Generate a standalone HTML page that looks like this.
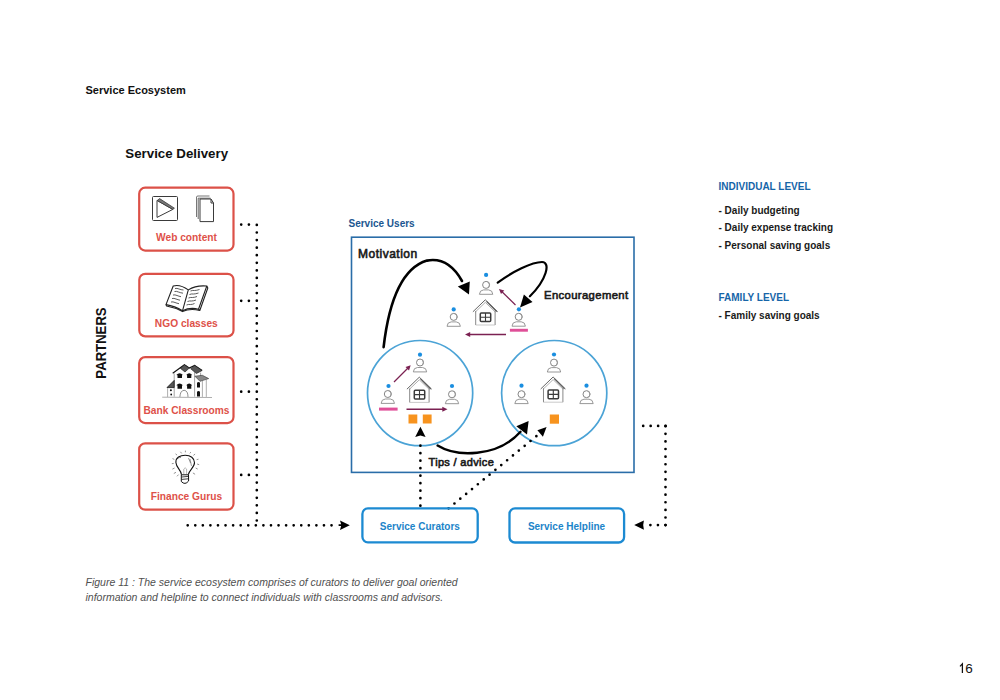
<!DOCTYPE html>
<html><head><meta charset="utf-8">
<style>
html,body{margin:0;padding:0;background:#fff;}
body{width:1000px;height:700px;position:relative;overflow:hidden;font-family:"Liberation Sans",sans-serif;}
.t{position:absolute;white-space:nowrap;line-height:1;}
.b{font-weight:bold;}
.red{color:#de5149;font-size:10.2px;font-weight:bold;}
.blk{color:#1a1a1a;font-size:10px;font-weight:bold;}
.lvl{color:#1665a8;font-size:10px;font-weight:bold;}
.hand{color:#1a1a1a;font-size:11px;font-weight:normal;-webkit-text-stroke:0.6px #1a1a1a;}
svg{position:absolute;left:0;top:0;}
</style></head><body>
<svg width="1000" height="700" viewBox="0 0 1000 700">
<defs>
 <g id="person">
  <circle cx="0" cy="0" r="3.5" fill="none" stroke="#777" stroke-width="0.9"/>
  <path d="M1.2 -3.2 A3.4 3.4 0 0 1 2.2 2.5" fill="none" stroke="#999" stroke-width="1"/>
  <path d="M-6.7 9.4 Q-6.4 5.2 -2.5 5 H2.5 Q6.4 5.2 6.7 9.4 Z" fill="none" stroke="#8c8c8c" stroke-width="0.9"/>
 </g>
 <g id="house">
  <path d="M-12.4 12.2 L0 0.2 L12.4 12.2" fill="none" stroke="#666" stroke-width="1"/>
  <path d="M-10.2 12.6 L0 2.8 L10.2 12.6" fill="none" stroke="#999" stroke-width="0.8"/>
  <path d="M1.2 1.8 L11.4 12" fill="none" stroke="#555" stroke-width="1.1"/>
  <path d="M-9.6 11.5 V25.4 M9.8 11.5 V25.4" fill="none" stroke="#7a7a7a" stroke-width="0.9"/>
  <path d="M-9.6 25.4 H9.8" fill="none" stroke="#bbb" stroke-width="0.8"/>
  <rect x="-5" y="13.3" width="10.4" height="8.6" rx="1" fill="none" stroke="#3a3a3a" stroke-width="1.5"/>
  <path d="M0.2 13.3 V21.9 M-5 17.6 H5.4" stroke="#3a3a3a" stroke-width="1.1"/>
 </g>
</defs>

<!-- red partner boxes -->
<g fill="none" stroke="#dc5148" stroke-width="2.2">
 <rect x="139.2" y="187.7" width="94.3" height="62.9" rx="6"/>
 <rect x="139.3" y="273.8" width="94.2" height="62.6" rx="6"/>
 <rect x="139.2" y="357.1" width="94.3" height="66" rx="6"/>
 <rect x="139.2" y="443.3" width="94.3" height="66.4" rx="6"/>
</g>

<!-- dotted lines left -->
<g stroke="#000" stroke-width="2.7" stroke-linecap="round" fill="none">
 <path d="M256.8 224.9 V521" stroke-dasharray="0 7.58"/>
 <path d="M241.2 224.6 H249 M241.2 300.8 H249 M241.2 391.7 H249 M241.2 474.9 H249" stroke-dasharray="0 7.7"/>
 <path d="M187.7 525.3 H332" stroke-dasharray="0 7.57"/>
</g>
<path d="M349.8 525.2 L340 520.5 L341.1 524.3 L338.6 524.3 L338.6 526.1 L341.1 526.1 L340 529.9 Z" fill="#000"/>

<!-- Service users rect -->
<rect x="351.5" y="237.2" width="282.5" height="235.2" fill="none" stroke="#2a6da8" stroke-width="1.6"/>
<g fill="none" stroke="#4ba3d6" stroke-width="1.7">
 <circle cx="420.1" cy="393.1" r="52.6"/>
 <circle cx="554.2" cy="393.1" r="52.6"/>
</g>

<!-- group 1 -->
<use href="#person" x="486.1" y="284.9"/><circle cx="486.1" cy="274.9" r="2.1" fill="#1a8ee0"/>
<use href="#person" x="453.7" y="316.9"/><circle cx="453.7" cy="309.4" r="2.1" fill="#1a8ee0"/>
<use href="#person" x="518.7" y="316.8"/><circle cx="518.9" cy="309.3" r="2.1" fill="#1a8ee0"/>
<use href="#house" x="485.3" y="299.6"/>
<rect x="509.9" y="328.8" width="18" height="2.9" fill="#df4f98"/>
<g stroke="#7b2152" stroke-width="1.2" fill="#7b2152">
 <path d="M506 334.5 H468" fill="none" stroke-width="1.4"/>
 <path d="M465 334.5 L470.2 332 L470.2 337 Z" stroke="none"/>
 <path d="M515.5 305 L501 290.8" fill="none"/>
 <path d="M499 289 L504.3 290.6 L501 294 Z" stroke="none"/>
</g>

<!-- group 2 -->
<use href="#person" x="420" y="362.5"/><circle cx="420" cy="354.7" r="2.1" fill="#1a8ee0"/>
<use href="#person" x="387.8" y="394"/><circle cx="388.5" cy="386" r="2.1" fill="#1a8ee0"/>
<use href="#person" x="452" y="394.3"/><circle cx="452" cy="386" r="2.1" fill="#1a8ee0"/>
<use href="#house" x="419.3" y="377"/>
<rect x="379" y="407.6" width="18.6" height="3" fill="#df4f98"/>
<g stroke="#7b2152" stroke-width="1.2" fill="#7b2152">
 <path d="M406.5 409.3 H444" fill="none" stroke-width="1.4"/>
 <path d="M447.5 409.3 L442.3 406.8 L442.3 411.8 Z" stroke="none"/>
 <path d="M394 382 L408.5 367.5" fill="none"/>
 <path d="M410.7 365.3 L409 370.6 L405.5 367 Z" stroke="none"/>
</g>
<rect x="408.5" y="414.5" width="8.8" height="9" fill="#f7931e"/>
<rect x="422.8" y="414.5" width="8.8" height="9" fill="#f7931e"/>

<!-- group 3 -->
<use href="#person" x="554" y="362.6"/><circle cx="554" cy="354.5" r="2.1" fill="#1a8ee0"/>
<use href="#person" x="521.5" y="394.2"/><circle cx="521.5" cy="385.7" r="2.1" fill="#1a8ee0"/>
<use href="#person" x="586.5" y="394.2"/><circle cx="586.5" cy="385.7" r="2.1" fill="#1a8ee0"/>
<use href="#house" x="553.1" y="376.8"/>
<rect x="549.8" y="414.5" width="9.2" height="9.2" fill="#f7931e"/>

<!-- black curved arrows -->
<g fill="none" stroke="#000" stroke-linecap="round">
 <path d="M383.6 347.2 C387 318 396 270 427 260.6 C444 257.5 455 268.5 462 281" stroke-width="2.6"/>
 <path d="M497.7 282.6 C512 272 532 262 542 262 C551 262 546.5 280 529.9 296.3" stroke-width="2.2"/>
 <path d="M437.6 445.6 C456 457 497 458 520.5 431.8" stroke-width="2.4"/>
</g>
<g fill="#000">
 <path d="M457.8 286.5 L469.8 281.5 L469 294.5 Z"/>
 <path d="M523.9 294.6 L532.5 301.9 L520 307.5 Z"/>
 <path d="M516.3 426.3 L528.6 421 L527 434.6 Z"/>
 <path d="M537.4 430.3 L546.6 427 L542.9 436.8 Z"/>
 <path d="M420.4 426.8 L425.6 437 L420.4 435.6 L415.2 437 Z"/>
</g>
<g stroke="#000" stroke-width="2.7" stroke-linecap="round" fill="none">
 <path d="M420.4 505.7 V440" stroke-dasharray="0 7.5"/>
 <path d="M448.6 508.3 L536.6 436" stroke-dasharray="0 7.573"/>
 <path d="M643.2 425.9 H665.9" stroke-dasharray="0 7.46"/>
 <path d="M665.5 426.2 V525.5" stroke-dasharray="0 7.607"/>
 <path d="M665.5 525.1 H650" stroke-dasharray="0 7.55"/>
</g>
<path d="M634.2 525.1 L643.9 520.4 L643.2 525.1 L643.9 529.8 Z" fill="#000"/>

<!-- service boxes -->
<g fill="none" stroke="#1c8ad2" stroke-width="2.3">
 <rect x="362.4" y="508.4" width="115.3" height="33.9" rx="5.5"/>
 <rect x="509.5" y="508.4" width="114.6" height="34.1" rx="5.5"/>
</g>

<!-- icons: web content -->
<g fill="none" stroke="#3a3a3a" stroke-width="1">
 <rect x="152.5" y="196.5" width="25" height="24" rx="1"/>
 <path d="M157 200.4 L172.8 209.4 L157 217.4 Z"/>
 <path d="M157.2 200.5 L159.6 198.6 L174.4 208.2 L172.8 209.4 Z" fill="#777" stroke-width="0.8"/>
 <path d="M196.5 217 V197 Q196.5 196 198 196 H209.5" stroke="#777"/>
 <path d="M198.2 219 V198.2 H210.5" stroke="#666"/>
 <path d="M200 221.6 V199 H211 L213.5 203 V221.6 Z"/>
 <path d="M211 199 V203 H213.5" />
</g>
<!-- book icon -->
<g fill="none" stroke="#222" stroke-width="1.1" stroke-linejoin="round">
 <path d="M173.2 286 Q180 284 188.3 289.9 L182.5 310.8 Q175 306 166 304.6 Z"/>
 <path d="M188.3 289.9 Q196 285 206.8 286 L198.5 309.2 Q190 307 182.5 310.8"/>
 <path d="M206.8 286 L207.8 288 L199.8 310.5 L198.5 309.2" />
 <path d="M166 304.6 L166.6 306 Q175 307.5 182.5 311.6 Q190 308 199.8 310.5" />
 <g stroke-width="0.8" stroke="#333">
  <path d="M175 288.5 q2 -0.5 4 0.5 q2 0.8 4.5 1"/>
  <path d="M174.5 291.5 q2 -0.5 4 0.5 q2 0.8 4.5 1.2"/>
  <path d="M173 295 q2 -0.5 4 0.5 q2 0.8 4 1.2"/>
  <path d="M172 298.5 q2 -0.5 4 0.5 q2 0.8 4 1.2"/>
  <path d="M171 302 q2 -0.5 4 0.5 q2 0.8 4 1.2"/>
  <path d="M190.5 291 q2 -0.8 4 -0.5 q2 0 5 -1"/>
  <path d="M189.5 294.5 q2 -0.8 4 -0.5 q2 0 5 -1"/>
  <path d="M188.5 298 q2 -0.8 4 -0.5 q2 0 4.5 -1"/>
  <path d="M187.5 301.5 q2 -0.8 4 -0.5 q2 0 4.5 -1"/>
  <path d="M186.5 305 q2 -0.8 4 -0.5 q2 0 4 -1"/>
 </g>
</g>
<!-- building icon -->
<g fill="none">
 <path d="M162.2 397.2 L212.0 397.5" stroke="#777" stroke-width="0.6"/>
 <path d="M172.7 373.2 L184.4 364.8 L189.2 368.1 L194.6 365.4 L202.1 370.5" stroke="#111" stroke-width="1.2"/>
 <path d="M184.4 364.8 L189.2 368.1 L185.0 372.0 L180.5 368.4 Z" fill="#555" stroke="#222" stroke-width="0.7"/>
 <path d="M194.6 365.4 L202.1 370.5 L196.4 373.5 L190.7 368.7 Z" fill="#555" stroke="#222" stroke-width="0.7"/>
 <path d="M174.2 373.5 V396.6 M194.6 372.0 V396.6 M200.6 372.6 V376.2" stroke="#666" stroke-width="0.6"/>
 <path d="M194.9 376.2 L202.4 375.3 L208.7 378.6 L200.0 381.3 Z" fill="#888" stroke="#333" stroke-width="0.6"/>
 <path d="M202.4 380.7 V396.9 M206.3 379.2 V396.9" stroke="#777" stroke-width="0.6"/>
 <path d="M167.0 387.6 L174.2 380.4 L174.2 387.6 Z" fill="#555" stroke="#111" stroke-width="0.8"/>
 <path d="M167.6 388.2 V396.9" stroke="#777" stroke-width="0.6"/>
 <path d="M179.9 396.9 Q180.2 390.6 184.1 390.3 Q188.0 390.6 188.0 396.9" stroke="#444" stroke-width="0.6"/>
 <g fill="#111">
  <path d="M176.3 375.0 Q179.6 371.4 182.9 375.0 L182.0 375.3 V378.0 H177.5 V375.3 Z"/>
  <path d="M186.2 375.0 Q189.2 371.4 192.2 375.0 L191.3 375.3 V378.0 H187.1 V375.3 Z"/>
  <path d="M176.3 385.2 Q179.6 381.6 182.9 385.2 L182.0 385.5 V388.8 H177.5 V385.5 Z"/>
  <path d="M186.2 385.2 Q189.2 381.6 192.2 385.2 L191.3 385.5 V388.8 H187.1 V385.5 Z"/>
  <path d="M197.0 382.8 Q198.5 381.3 200.0 382.8 V387.6 H197.0 Z"/>
  <path d="M197.0 391.8 Q198.5 390.3 200.0 391.8 V396.6 H197.0 Z"/>
  <circle cx="170.9" cy="390.3" r="1"/>
  <circle cx="171.2" cy="394.5" r="0.9"/>
 </g>

</g>
<!-- bulb icon -->
<g stroke="#111" fill="none" stroke-width="1">
 <path d="M181.5 474.6 C181 470 176.2 467.5 175.9 462.5 C175.6 457.5 180 455.2 185.2 455.2 C190.5 455.2 194.5 458 194.5 462.8 C194.5 467.5 189 470 188.3 474.6" stroke-width="1.1"/>
 <path d="M181.3 474.8 H188.5 L188.6 481 Q185 485.5 181.3 481.5 Z" stroke-width="1"/>
 <path d="M181.8 477 L188.2 476.4 M181.8 479.4 L188.2 478.8" stroke-width="0.8"/>
 <path d="M183.8 474 V469 Q185 466.5 186.6 469 V474" stroke-width="0.6" stroke="#888"/>
 <path d="M178.5 458.5 Q179.5 457 181 457.5 M188.5 458 L190.5 463 M190 459 L191.5 466" stroke-width="0.6" stroke="#555"/>
 <g stroke="#888" stroke-width="0.9">
  <path d="M185.4 452.3 L185.4 450.6 M181.7 453.4 L180.4 451.8 M189.7 453.4 L191 452.1 M177.1 455.1 L175.5 453.9 M193.4 455.4 L195.1 454.1 M174.3 459.4 L172.5 458.6 M196.6 459.7 L198.5 459.2 M173.7 463.4 L171.8 463.7 M197.1 464.0 L199.2 464.7 M174.6 468.0 L172.4 469.1 M195.7 468.0 L197.7 469.1 M176.0 472.3 L173.8 473.5 M192.9 472.9 L195.1 474.3 M178.6 474.6 L177 476.3"/>
 </g>
</g>
</svg>

<div class="t b" style="left:85.5px;top:85px;font-size:11px;color:#111;">Service Ecosystem</div>
<div class="t b" style="left:125.3px;top:146.8px;font-size:13.3px;color:#111;">Service Delivery</div>
<div class="t b" style="left:101px;top:342.5px;font-size:14.6px;color:#111;transform:translate(-50%,-50%) rotate(-90deg) scaleX(0.9);transform-origin:center;">PARTNERS</div>

<div class="t red" style="left:136.5px;width:100px;text-align:center;top:232.8px;">Web content</div>
<div class="t red" style="left:136.3px;width:100px;text-align:center;top:319.2px;">NGO classes</div>
<div class="t red" style="left:136.5px;width:100px;text-align:center;top:405.8px;">Bank Classrooms</div>
<div class="t red" style="left:136.4px;width:100px;text-align:center;top:492px;">Finance Gurus</div>

<div class="t b" style="left:348.5px;top:219px;font-size:10px;color:#1b5690;">Service Users</div>
<div class="t hand" style="left:358px;top:248.2px;font-size:12px;letter-spacing:0.5px;">Motivation</div>
<div class="t hand" style="left:544px;top:289.5px;font-size:11.3px;letter-spacing:0.36px;">Encouragement</div>
<div class="t hand" style="left:428.5px;top:456.6px;letter-spacing:0.33px;">Tips / advice</div>

<div class="t b" style="left:379.8px;top:522px;font-size:10px;color:#1c84c9;">Service Curators</div>
<div class="t b" style="left:527.9px;top:521.5px;font-size:10px;color:#1c84c9;">Service Helpline</div>

<div class="t lvl" style="left:718.5px;top:182px;">INDIVIDUAL LEVEL</div>
<div class="t blk" style="left:718.5px;top:205.5px;">- Daily budgeting</div>
<div class="t blk" style="left:718.5px;top:223px;">- Daily expense tracking</div>
<div class="t blk" style="left:718.5px;top:240.5px;">- Personal saving goals</div>
<div class="t lvl" style="left:718.5px;top:293px;">FAMILY LEVEL</div>
<div class="t blk" style="left:718.5px;top:311px;">- Family saving goals</div>

<div class="t" style="left:85.5px;top:576.5px;font-size:10.5px;font-style:italic;color:#505050;">Figure 11 : The service ecosystem comprises of curators to deliver goal oriented</div>
<div class="t" style="left:85.5px;top:591.5px;font-size:10.5px;font-style:italic;color:#505050;">information and helpline to connect individuals with classrooms and advisors.</div>

<svg width="1000" height="700" style="position:absolute;left:0;top:0"><path d="M960 666.4 L962.4 663.9 V673" fill="none" stroke="#111" stroke-width="1.25"/></svg>
<div class="t" style="left:965.3px;top:662px;font-size:13.5px;color:#111;">6</div>
</body></html>
